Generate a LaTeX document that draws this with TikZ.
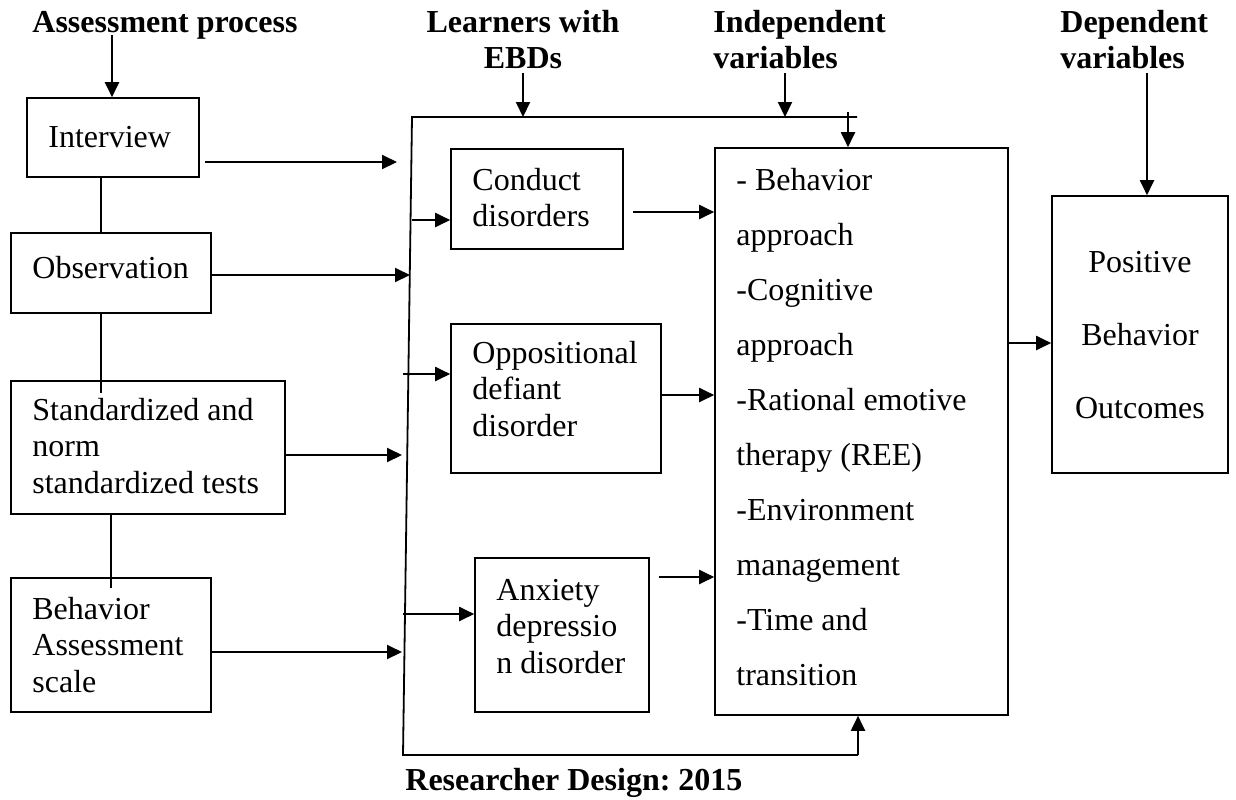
\documentclass[tikz,border=0pt]{standalone}
\usepackage{fontspec}
\setmainfont{Liberation Serif}
\usetikzlibrary{arrows.meta,fit}
\frenchspacing
\begin{document}
\begin{tikzpicture}[x=0.5pt,y=-0.5pt,
  box/.style={draw,line width=0.8pt,inner sep=0pt},
  txt/.style={anchor=base west,inner sep=0pt,align=flush left,text width=#1,font=\fontsize{16}{18.25}\selectfont},
  txt/.default=200pt,
  bigtxt/.style={anchor=base west,inner sep=0pt,align=flush left,text width=140pt,font=\fontsize{16}{27.5}\selectfont},
  postxt/.style={anchor=base,inner sep=0pt,align=flush center,text width=80pt,font=\fontsize{16}{36.5}\selectfont},
  head/.style={anchor=base west,inner sep=0pt,align=flush left,text width=140pt,font=\fontsize{16}{18}\selectfont\bfseries},
  headc/.style={anchor=base,inner sep=0pt,align=flush center,text width=110pt,font=\fontsize{16}{18}\selectfont\bfseries},
  arr/.style={-{Triangle[length=7.5pt,width=7pt]},line width=1pt},
  ln/.style={line width=0.9pt}]
\useasboundingbox (0,0) rectangle (1236,799);

% headings
\node[head] (hAssess) at (32,32) {Assessment process};
\node[headc] (hLearn) at (523,32) {Learners with\\EBDs};
\node[head] (hIndep) at (713,32) {Independent\\variables};
\node[head] (hDep) at (1060,32) {Dependent\\variables};
\node[head,text width=200pt] (caption) at (405,790) {Researcher Design: 2015};

% left boxes
\node[box,fit={(27,98)(199,177)}] (interview) {};
\node[txt] (interviewT) at (48,147) {Interview};
\node[box,fit={(11,233)(211,313)}] (observation) {};
\node[txt] (observationT) at (32,278) {Observation};
\node[box,fit={(11,381)(285,514)}] (standard) {};
\node[txt] (standardT) at (32,420) {Standardized and\\norm\\standardized tests};
\node[box,fit={(11,578)(211,712)}] (bas) {};
\node[txt] (basT) at (32,619) {Behavior\\Assessment\\scale};

% EBD boxes
\node[box,fit={(451,149)(623,249)}] (conduct) {};
\node[txt] (conductT) at (472,190) {Conduct\\disorders};
\node[box,fit={(451,324)(661,473)}] (odd) {};
\node[txt] (oddT) at (472,363) {Oppositional\\defiant\\disorder};
\node[box,fit={(475,558)(649,712)}] (anxiety) {};
\node[txt] (anxietyT) at (496,600) {Anxiety\\depressio\\n disorder};

% independent variables box
\node[box,fit={(715,148)(1008,715)}] (indep) {};
\node[bigtxt] (indepT) at (736,190) {- Behavior\\approach\\-Cognitive\\approach\\-Rational emotive\\therapy (REE)\\-Environment\\management\\-Time and\\transition};

% dependent box
\node[box,fit={(1052,196)(1228,473)}] (positive) {};
\node[postxt] (positiveT) at (1140,272) {Positive\\Behavior\\Outcomes};

% frame coordinates
\coordinate (ftl) at (412,117);
\coordinate (ftr) at (857,117);
\coordinate (fbl) at (403,755);
\coordinate (fbr) at (858,755);
\draw[ln] (ftr) -- (ftl) -- (fbl) -- (fbr);
\draw[arr] (fbr) -- (fbr |- indep.south);

% heading arrows
\coordinate (aa) at (112,35);
\draw[arr] (aa) -- (aa |- interview.north);
\coordinate (la) at (523,73);
\draw[arr] (la) -- (la |- ftl);
\coordinate (ia) at (785,73);
\draw[arr] (ia) -- (ia |- ftl);
\coordinate (sa) at (848,112);
\draw[arr] (sa) -- (sa |- indep.north);
\coordinate (da) at (1147,73);
\draw[arr] (da) -- (da |- positive.north);

% links between left boxes
\coordinate (l1) at (101,177);
\draw[ln] (l1) -- (l1 |- observation.north);
\coordinate (l2) at (101,313);
\draw[ln] (l2) -- (101,393);
\coordinate (l3) at (111,514);
\draw[ln] (l3) -- (111,588);

% arrows from left boxes to frame
\coordinate (e1) at (205,162);
\coordinate (t1) at (397,162);
\draw[arr] (e1) -- (t1);
\coordinate (t2) at (410,275);
\draw[arr] (observation.east |- t2) -- (t2);
\coordinate (t3) at (402,455);
\draw[arr] (standard.east |- t3) -- (t3);
\coordinate (t4) at (402,652);
\draw[arr] (bas.east |- t4) -- (t4);

% arrows from frame into EBD boxes
\coordinate (s1) at (412,220);
\draw[arr] (s1) -- (s1 -| conduct.west);
\coordinate (s2) at (403,374);
\draw[arr] (s2) -- (s2 -| odd.west);
\coordinate (s3) at (403,614);
\draw[arr] (s3) -- (s3 -| anxiety.west);

% arrows from EBD boxes into independent box
\coordinate (o1) at (633,212);
\draw[arr] (o1) -- (o1 -| indep.west);
\coordinate (o2) at (661,395);
\draw[arr] (o2) -- (o2 -| indep.west);
\coordinate (o3) at (659,577);
\draw[arr] (o3) -- (o3 -| indep.west);

% independent -> dependent
\coordinate (o4) at (1008,343);
\draw[arr] (o4) -- (o4 -| positive.west);
\end{tikzpicture}
\end{document}
